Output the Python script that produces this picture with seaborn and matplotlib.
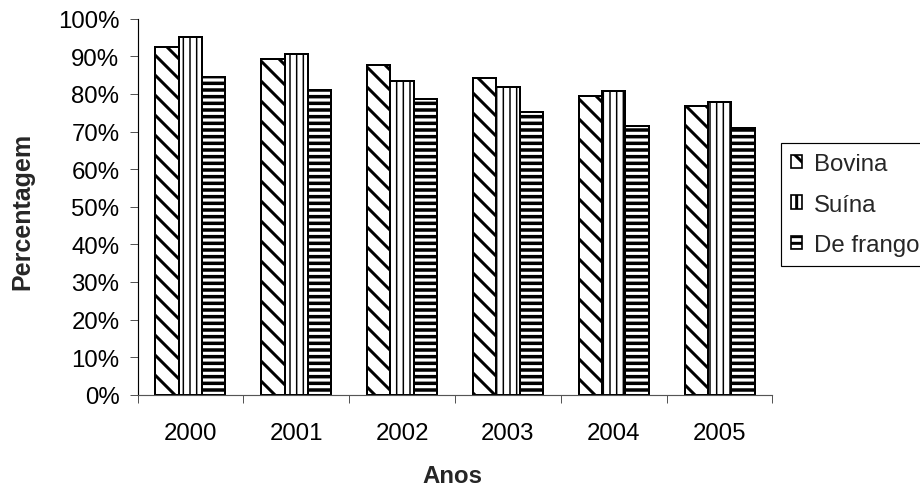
import matplotlib
matplotlib.use("Agg")
import matplotlib.pyplot as plt
from matplotlib.patches import Patch
import seaborn as sns
import pandas as pd

# Share of each meat type per year (%)
anos = ["2000", "2001", "2002", "2003", "2004", "2005"]
bovina = [92.5, 89.4, 87.8, 84.1, 79.4, 76.7]
suina = [95.2, 90.5, 83.5, 81.9, 80.9, 77.8]
frango = [84.6, 81.0, 78.7, 75.2, 71.4, 70.9]
series = ["Bovina", "Suína", "De frango"]
hatches = ["\\\\", "|||", "---"]
hatch_widths = [1.8, 0.9, 2.1]

df = pd.DataFrame({
    "Anos": anos * 3,
    "valor": bovina + suina + frango,
    "Tipo": [s for s in series for _ in anos],
})

sns.set_theme(style="white")
plt.rcParams["font.family"] = ["Liberation Sans", "DejaVu Sans"]
plt.rcParams["hatch.linewidth"] = 1.8
plt.rcParams["hatch.color"] = "black"

DPI = 120
W, H = 920, 490
FS = 14.4

fig = plt.figure(figsize=(W / DPI, H / DPI), dpi=DPI)
ax = fig.add_axes([137.5 / W, 1 - 395.7 / H, 635 / W, 376 / H])

sns.barplot(data=df, x="Anos", y="valor", hue="Tipo", hue_order=series,
            order=anos, palette=["white"] * 3, width=0.66, gap=0,
            edgecolor="black", linewidth=1.2, saturation=1, ax=ax)

for cont, h, hw in zip(ax.containers, hatches, hatch_widths):
    for bar in cont:
        bar.set_hatch(h)
        bar.set_facecolor("white")
        bar.set_edgecolor("black")
        if hasattr(bar, "set_hatch_linewidth"):
            bar.set_hatch_linewidth(hw)

if ax.get_legend() is not None:
    ax.get_legend().remove()

ax.set_xlim(-0.5, len(anos) - 0.5)
ax.set_ylim(0, 100)
ax.set_yticks(range(0, 101, 10))
ax.set_yticklabels([f"{v}%" for v in range(0, 101, 10)])
ax.set_xticks([i - 0.5 for i in range(len(anos) + 1)], minor=True)
ax.tick_params(axis="x", which="major", length=0, pad=16.4, labelsize=FS,
               labelcolor="black")
ax.tick_params(axis="x", which="minor", length=4.8, width=0.6, color="#555555",
               direction="out", bottom=True)
ax.tick_params(axis="y", which="major", length=4.8, width=0.6, color="#555555",
               direction="out", left=True, labelsize=FS, pad=6,
               labelcolor="black")

for side in ["top", "right"]:
    ax.spines[side].set_visible(False)
ax.spines["left"].set_color("black")
ax.spines["left"].set_linewidth(0.7)
ax.spines["bottom"].set_color("#555555")
ax.spines["bottom"].set_linewidth(0.7)

ax.set_xlabel("")
ax.set_ylabel("")
ax.grid(False)

fig.text(452 / W, 1 - 483 / H, "Anos", fontsize=FS, fontweight="bold",
         ha="center", va="baseline")
fig.text(22 / W, 1 - 211 / H, "Percentagem", fontsize=15, fontweight="bold",
         rotation=90, ha="center", va="center")

handles = []
for h, hw in zip(hatches, hatch_widths):
    p = Patch(facecolor="white", edgecolor="black", hatch=h, linewidth=1.0)
    if hasattr(p, "set_hatch_linewidth"):
        p.set_hatch_linewidth(hw)
    handles.append(p)

leg = fig.legend(handles, series, loc="upper left",
                 bbox_to_anchor=(781 / W, 1 - 144 / H),
                 fontsize=FS, frameon=True, fancybox=False, edgecolor="black",
                 framealpha=1, handlelength=0.46, handleheight=0.46,
                 handletextpad=0.5, labelspacing=0.77, borderpad=0.42,
                 borderaxespad=0)
leg.get_frame().set_linewidth(0.7)

fig.savefig("out.png", dpi=DPI)
